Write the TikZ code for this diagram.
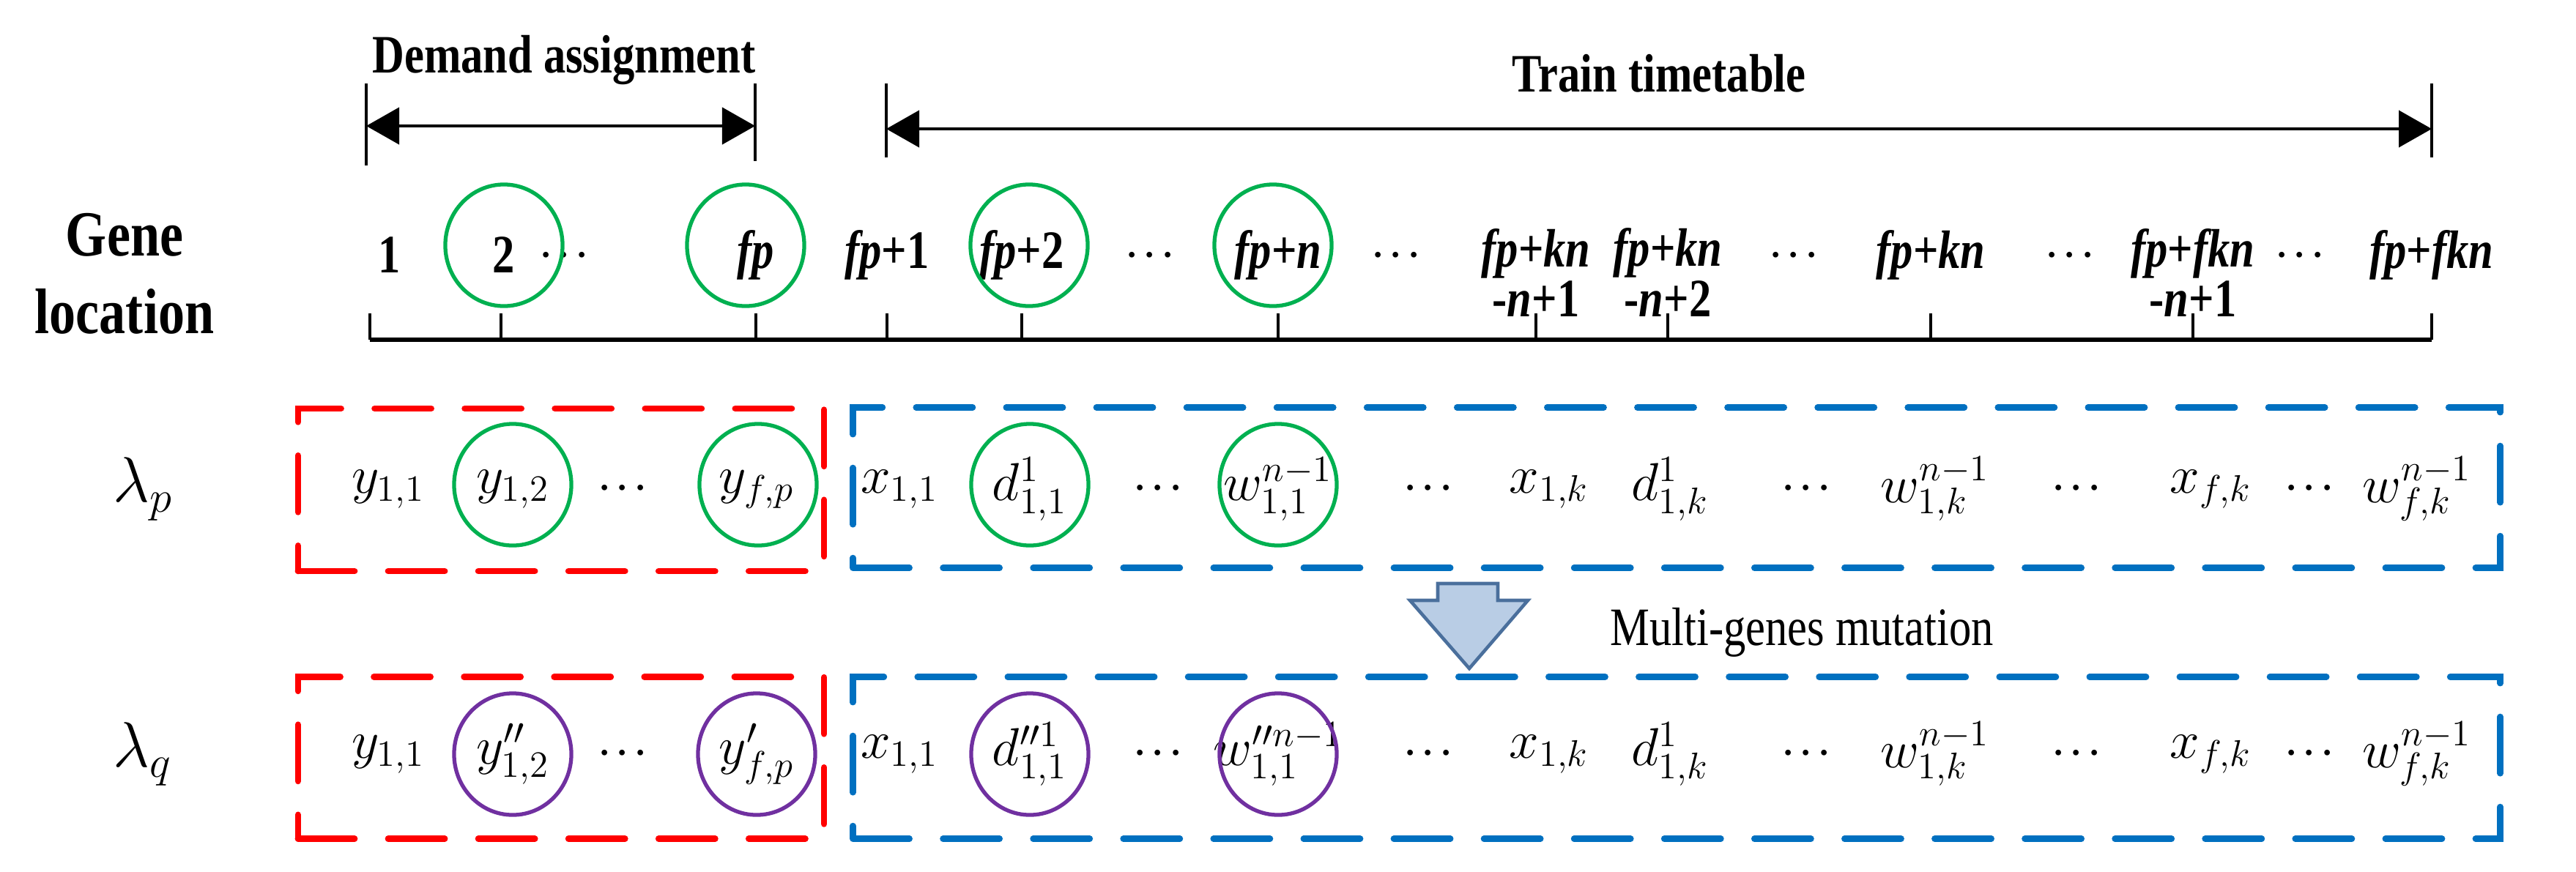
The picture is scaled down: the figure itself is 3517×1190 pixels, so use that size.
\documentclass[tikz,border=0pt]{standalone}
\usepackage{fontspec}
\setmainfont{Liberation Serif}
\newfontfamily\cond{Liberation Serif}[FakeStretch=0.82]
\usetikzlibrary{arrows.meta,shapes.geometric}
\definecolor{cred}{HTML}{FF0000}
\definecolor{cblue}{HTML}{0070C0}
\definecolor{cgreen}{HTML}{00B050}
\definecolor{cpurple}{HTML}{7030A0}
\definecolor{afill}{HTML}{B9CDE5}
\definecolor{aline}{HTML}{4A6F9C}
\newcommand{\dts}{\mathbin{\cdot\!\cdot\!\cdot}}
\begin{document}
\begin{tikzpicture}[x=0.01cm,y=-0.01cm,
  lab/.style={font=\cond\fontsize{21}{17}\selectfont\bfseries, align=center, inner sep=0pt},
  gl/.style={font=\cond\fontsize{21}{17}\selectfont\bfseries\itshape, align=center, inner sep=0pt},
  el/.style={font=\fontsize{22}{26}\selectfont, inner sep=0pt},
  ring/.style={ellipse, draw=#1, line width=1.5pt, minimum width=1.6cm, minimum height=1.66cm, inner sep=0pt},
  box/.style={draw=#1, line width=2.4pt, dash pattern=on 22pt off 13pt, line cap=round},
  dim/.style={line width=1.2pt, {Triangle[length=0.45cm,width=0.5cm]}-{Triangle[length=0.45cm,width=0.5cm]}},
  tick/.style={line width=1.1pt}]
\useasboundingbox (0,0) rectangle (3517,1190);
% top dimension arrows
\coordinate (da1t) at (500,114); \coordinate (da1b) at (500,226);
\coordinate (da2t) at (1031,114); \coordinate (da2b) at (1031,220);
\draw[tick] (da1t) -- (da1b); \draw[tick] (da2t) -- (da2b);
\coordinate (daL) at (500,172); \coordinate (daR) at (1031,172);
\draw[dim] (daL) -- (daR);
\node[lab] (dat) at (770,82) {Demand assignment};
\coordinate (tt1t) at (1210,114); \coordinate (tt1b) at (1210,215);
\coordinate (tt2t) at (3320,114); \coordinate (tt2b) at (3320,215);
\draw[tick] (tt1t) -- (tt1b); \draw[tick] (tt2t) -- (tt2b);
\coordinate (ttL) at (1210,176); \coordinate (ttR) at (3320,176);
\draw[dim] (ttL) -- (ttR);
\node[lab] (ttt) at (2265,100) {Train timetable};
% gene location
\node[lab, font=\cond\fontsize{25}{30}\selectfont\bfseries] (gene) at (170,374) {Gene\\location};
\node[lab] (g1) at (532,348) {1};
\node[lab] (g2) at (688,348) {2};
\node[lab] (g3) at (770,350) {$\dts$};
\node[gl] (g4) at (1032,348) {fp};
\node[gl] (g5) at (1211,348) {fp\textup{+1}};
\node[gl] (g6) at (1395,348) {fp\textup{+2}};
\node[lab] (g7) at (1570,350) {$\dts$};
\node[gl] (g8) at (1745,348) {fp\textup{+}n};
\node[lab] (g9) at (1906,350) {$\dts$};
\node[gl] (g10) at (2097,372) {fp\textup{+}kn\\\textup{-}n\textup{+1}};
\node[gl] (g11) at (2277,372) {fp\textup{+}kn\\\textup{-}n\textup{+2}};
\node[lab] (g12) at (2449,350) {$\dts$};
\node[gl] (g13) at (2636,348) {fp\textup{+}kn};
\node[lab] (g14) at (2826,350) {$\dts$};
\node[gl] (g15) at (2994,372) {fp\textup{+}fkn\\\textup{-}n\textup{+1}};
\node[lab] (g16) at (3140,350) {$\dts$};
\node[gl] (g17) at (3320,348) {fp\textup{+}fkn};
\foreach \n/\x in {a/688,b/1018,c/1405,d/1738} \node[ring=cgreen] (gc\n) at (\x,335) {};
% axis
\coordinate (ax0) at (505,464); \coordinate (ax1) at (3320,464);
\draw[line width=1.8pt] (ax0) -- (ax1);
\foreach \x in {505,684,1032,1211,1395,1745,2097,2277,2636,2994,3320}
  \draw[tick] (\x,428) -- (\x,464);
% boxes
\node[box=cred, minimum width=7.18cm, minimum height=2.22cm, inner sep=0pt] (rbp) at (766,669) {};
\node[box=cblue, minimum width=22.48cm, minimum height=2.19cm, inner sep=0pt] (bbp) at (2289,666) {};
\node[box=cred, minimum width=7.18cm, minimum height=2.21cm, inner sep=0pt] (rbq) at (766,1035) {};
\node[box=cblue, minimum width=22.48cm, minimum height=2.21cm, inner sep=0pt] (bbq) at (2289,1035) {};
% lambda labels
\node[el, font=\fontsize{26}{30}\selectfont] (lp) at (195,668) {$\lambda_p$};
\node[el, font=\fontsize{26}{30}\selectfont] (lq) at (195,1030) {$\lambda_q$};
% rows
\foreach \n/\x/\t in {1/530/{y_{1,1}},2/700/{y_{1,2}},3/850/{\dts},4/1033/{y_{f,p}},5/1228/{x_{1,1}},6/1406/{d^{1}_{1,1}},7/1581/{\dts},8/1745/{w^{n-1}_{1,1}},9/1950/{\dts},10/2115/{x_{1,k}},11/2280/{d^{1}_{1,k}},12/2466/{\dts},13/2642/{w^{n-1}_{1,k}},14/2835/{\dts},15/3018/{x_{f,k}},16/3153/{\dts},17/3300/{w^{n-1}_{f,k}}}
  \node[el] (p\n) at (\x,668) {$\t$};
\foreach \n/\x/\t in {1/530/{y_{1,1}},2/700/{y^{\prime\prime}_{1,2}},3/850/{\dts},4/1033/{y^{\prime}_{f,p}},5/1228/{x_{1,1}},6/1406/{d^{\prime\prime1}_{1,1}},7/1581/{\dts},8/1745/{w^{\prime\prime n-1}_{1,1}},9/1950/{\dts},10/2115/{x_{1,k}},11/2280/{d^{1}_{1,k}},12/2466/{\dts},13/2642/{w^{n-1}_{1,k}},14/2835/{\dts},15/3018/{x_{f,k}},16/3153/{\dts},17/3300/{w^{n-1}_{f,k}}}
  \node[el] (q\n) at (\x,1030) {$\t$};
\foreach \n/\x in {a/700,b/1035,c/1406,d/1745} \node[ring=cgreen] (pc\n) at (\x,662) {};
\foreach \n/\x in {a/700,b/1033,c/1406,d/1745} \node[ring=cpurple] (qc\n) at (\x,1030) {};
% mutation arrow
\draw[fill=afill, draw=aline, line width=1.3pt, line join=miter]
  (1963,797) -- (2045,797) -- (2045,820) -- (2086,820) -- (2006,913) -- (1925,820) -- (1963,820) -- cycle;
\node[el, font=\cond\fontsize{21}{24}\selectfont] (mut) at (2460,864) {Multi-genes mutation};
\end{tikzpicture}
\end{document}
